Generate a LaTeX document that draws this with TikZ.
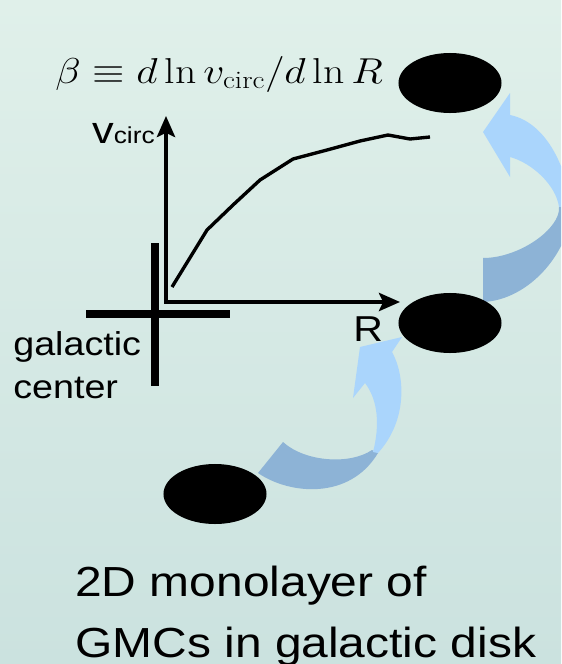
\documentclass[tikz,border=0pt]{standalone}
\usepackage{fix-cm}
\usepackage{fontspec}
\setsansfont{Liberation Sans}
\usetikzlibrary{shapes.geometric,arrows.meta}
\definecolor{bgtop}{RGB}{224,240,234}
\definecolor{bgbot}{RGB}{203,226,223}
\definecolor{flowlight}{RGB}{170,213,252}
\definecolor{flowdark}{RGB}{141,179,214}

\begin{document}
\begin{tikzpicture}[x=0.025cm,y=-0.025cm,>={Stealth[length=15pt,width=13pt,inset=3pt]},
    gmc/.style={ellipse,fill=black,minimum width=2.575cm,minimum height=1.5cm,inner sep=0pt},
    axis/.style={line width=2.5pt},
    rotcurve/.style={line width=2.4pt,line join=round},
    crossbar/.style={line width=5.7pt},
    sanslabel/.style={inner sep=0pt,xscale=1.14}]

        \useasboundingbox (0,0) rectangle (561,664);
        \fill[top color=bgtop,bottom color=bgbot] (0,0) rectangle (561,664);
        \clip (0,0) rectangle (561,664);

        \fill[flowdark] (483,258) .. controls (520,258) and (561,228) .. (559,207)
            -- (571,205) .. controls (572,250) and (530,300) .. (483,302) -- cycle;
        \fill[flowlight] (510,157) .. controls (532,163) and (556,185) .. (559,207)
            -- (571,205) .. controls (566,165) and (545,122) .. (510,115)
            -- (510,93) -- (483,132) -- (510,177) -- cycle;

        \fill[flowdark] (258,473) .. controls (290,495) and (350,500) .. (378,453)
            -- (372,450) .. controls (350,465) and (305,462) .. (283,442) -- cycle;
        \fill[flowlight] (373,452) .. controls (380,425) and (378,400) .. (365,383)
            -- (353,398) -- (360,347) -- (402,337) -- (392,352)
            .. controls (405,375) and (408,420) .. (378,453) -- cycle;

        \node[gmc] (gmc1) at (215,494) {};
        \node[gmc] (gmc2) at (450,323) {};
        \node[gmc] (gmc3) at (450,83) {};

        \coordinate (O) at (166,302);
        \coordinate (vtop) at (166,116);
        \coordinate (rend) at (400,302);
        \draw[axis,<->] (vtop) -- (O) -- (rend);

        \draw[rotcurve] (172,287) -- (207,230) -- (233,205) -- (260,180) -- (293,159)
            -- (327,150) -- (360,141) -- (388,135) -- (410,139) -- (430,137);

        \draw[crossbar] (155,243) -- (155,386);
        \draw[crossbar] (86,314) -- (230,314);

        \node[anchor=base west,inner sep=0pt,xscale=1.16,font=\fontsize{25.6}{30}\selectfont] (beta) at (55,83)
            {$\beta\equiv d\ln v_{\mathrm{circ}}/d\ln R$};
        \node[sanslabel,anchor=base east,font=\sffamily] (vlabel) at (155,143)
            {\fontsize{27}{27}\selectfont v\fontsize{16.4}{16}\selectfont circ};
        \node[sanslabel,anchor=base west,font=\sffamily\fontsize{25.6}{30}\selectfont] (rlabel) at (353,341) {R};
        \node[sanslabel,anchor=base west,align=left,font=\sffamily\fontsize{23.5}{29.9}\selectfont] (center) at (13,398)
            {galactic\\center};
        \node[sanslabel,anchor=base west,align=left,font=\sffamily\fontsize{29.9}{42.7}\selectfont] (disk) at (75,657)
            {2D monolayer of\\GMCs in galactic disk};
    \end{tikzpicture}
\end{document}
